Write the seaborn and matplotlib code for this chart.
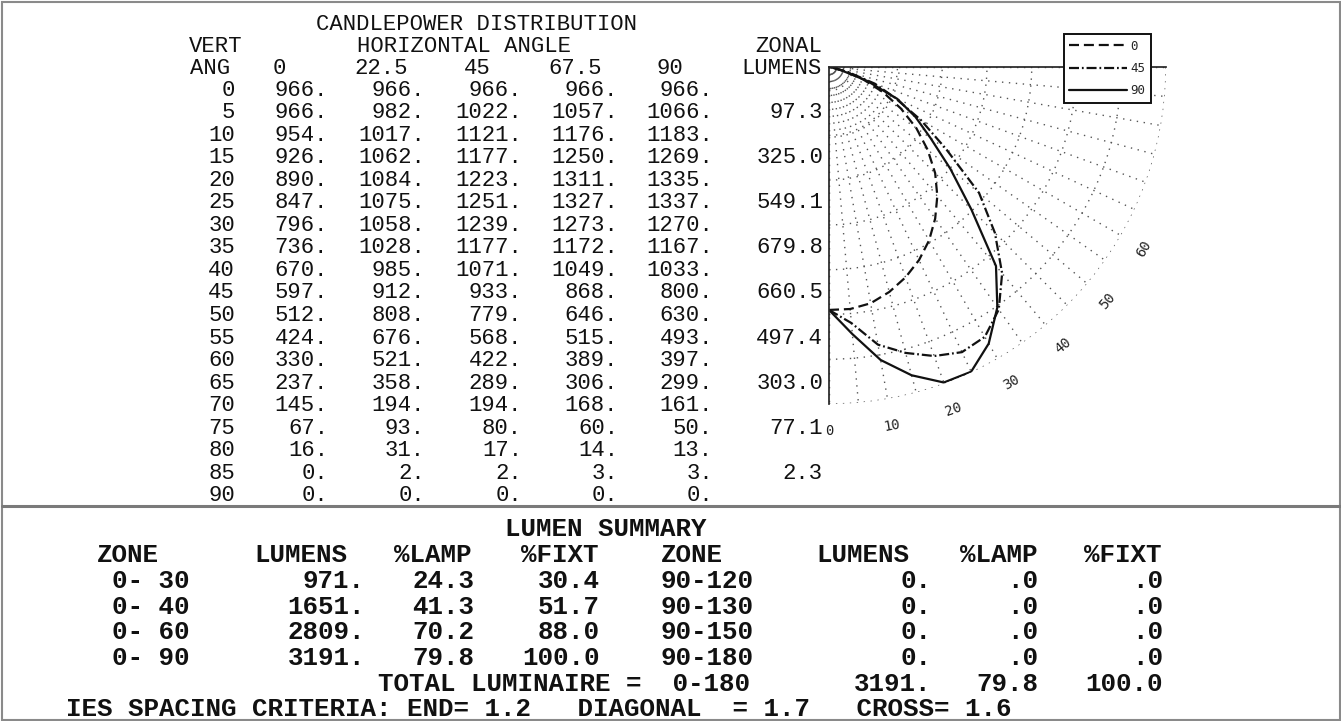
import numpy as np
import pandas as pd
import matplotlib
matplotlib.use("Agg")
import matplotlib.pyplot as plt
import seaborn as sns
from matplotlib.lines import Line2D
from matplotlib.patches import Rectangle

# ---------------- data ----------------
vert_angles = [0, 5, 10, 15, 20, 25, 30, 35, 40, 45, 50, 55, 60, 65, 70, 75, 80, 85, 90]
horiz_angles = ["0", "22.5", "45", "67.5", "90"]
cd_h0 = [966, 966, 954, 926, 890, 847, 796, 736, 670, 597, 512, 424, 330, 237, 145, 67, 16, 0, 0]
cd_h22 = [966, 982, 1017, 1062, 1084, 1075, 1058, 1028, 985, 912, 808, 676, 521, 358, 194, 93, 31, 2, 0]
cd_h45 = [966, 1022, 1121, 1177, 1223, 1251, 1239, 1177, 1071, 933, 779, 568, 422, 289, 194, 80, 17, 2, 0]
cd_h67 = [966, 1057, 1176, 1250, 1311, 1327, 1273, 1172, 1049, 868, 646, 515, 389, 306, 168, 60, 14, 3, 0]
cd_h90 = [966, 1066, 1183, 1269, 1335, 1337, 1270, 1167, 1033, 800, 630, 493, 397, 299, 161, 50, 13, 3, 0]
zonal_lumens = ["97.3", "325.0", "549.1", "679.8", "660.5", "497.4", "303.0", "77.1", "2.3"]

zones_a = ["0- 30", "0- 40", "0- 60", "0- 90"]
lumens_a = ["971.", "1651.", "2809.", "3191."]
lamp_a = ["24.3", "41.3", "70.2", "79.8"]
fixt_a = ["30.4", "51.7", "88.0", "100.0"]
zones_b = ["90-120", "90-130", "90-150", "90-180"]
lumens_b = ["0.", "0.", "0.", "0."]
lamp_b = [".0", ".0", ".0", ".0"]
fixt_b = [".0", ".0", ".0", ".0"]
total_zone = "0-180"
total_vals = ["3191.", "79.8", "100.0"]
spacing_text = "IES SPACING CRITERIA: END= 1.2   DIAGONAL  = 1.7   CROSS= 1.6"

polar_planes = ["0", "45", "90"]
polar_series = {"0": cd_h0, "45": cd_h45, "90": cd_h90}
angle_labels = ["0", "10", "20", "30", "40", "50", "60"]

# ---------------- figure ----------------
sns.set_theme(style="white")
MONO = ["Liberation Mono", "DejaVu Sans Mono"]
plt.rcParams["font.family"] = MONO

W, H = 1341, 721
fig = plt.figure(figsize=(W / 100, H / 100), dpi=100)
fig.patch.set_facecolor("white")


def fx(x):
    return x / W


def fy(y):
    return 1 - y / H


def put(x, y, s, ha="left", size=15, weight="normal"):
    fig.text(fx(x), fy(y), s, ha=ha, va="center_baseline", fontsize=size,
             family=MONO, fontweight=weight, color="#111111")


# frame and separator
fig.add_artist(Rectangle((fx(1.5), fy(719.5)), (W - 3) / W, (H - 3) / H,
                         transform=fig.transFigure, fill=False,
                         edgecolor="#8a8a8a", lw=1.5))
fig.add_artist(Line2D([fx(1.5), fx(W - 1.5)], [fy(506), fy(506)],
                      transform=fig.transFigure, color="#7a7a7a", lw=2.2))

# ---------------- top table ----------------
TS = 16
put(477, 22, "CANDLEPOWER DISTRIBUTION", ha="center", size=TS)
put(189, 44, "VERT", size=TS)
put(464, 44, "HORIZONTAL ANGLE", ha="center", size=TS)
put(822, 44, "ZONAL", ha="right", size=TS)
put(190, 66, "ANG", size=TS)
head_cx = [279, 381, 477, 575, 670]
for cx, lab in zip(head_cx, horiz_angles):
    put(cx, 66, lab, ha="center", size=TS)
put(822, 66, "LUMENS", ha="right", size=TS)

row_y0, row_dy = 87.5, 22.55
col_right = [328, 425, 522, 618, 713]
cols = [cd_h0, cd_h22, cd_h45, cd_h67, cd_h90]
for i, va in enumerate(vert_angles):
    y = row_y0 + i * row_dy
    put(235, y, str(va), ha="right", size=TS)
    for xr, col in zip(col_right, cols):
        put(xr, y, f"{col[i]}.", ha="right", size=TS)
for k, zl in enumerate(zonal_lumens):
    y = row_y0 + (2 * k + 1) * row_dy
    put(823, y, zl, ha="right", size=TS)

# ---------------- bottom summary ----------------
BS = 18.6
BW = "bold"
by0, bdy = 527, 25.7
put(606, by0, "LUMEN SUMMARY", ha="center", size=BS, weight=BW)
hy = by0 + bdy
for xl, lab in zip([97, 254, 394, 521, 661, 816, 960, 1084],
                   ["ZONE", "LUMENS", "%LAMP", "%FIXT", "ZONE", "LUMENS", "%LAMP", "%FIXT"]):
    put(xl, hy, lab, size=BS, weight=BW)
for r in range(4):
    y = by0 + (r + 2) * bdy
    put(112, y, zones_a[r], size=BS, weight=BW)
    put(365, y, lumens_a[r], ha="right", size=BS, weight=BW)
    put(474, y, lamp_a[r], ha="right", size=BS, weight=BW)
    put(600, y, fixt_a[r], ha="right", size=BS, weight=BW)
    put(661, y, zones_b[r], size=BS, weight=BW)
    put(931, y, lumens_b[r], ha="right", size=BS, weight=BW)
    put(1038, y, lamp_b[r], ha="right", size=BS, weight=BW)
    put(1163, y, fixt_b[r], ha="right", size=BS, weight=BW)
ty = by0 + 6 * bdy
put(378, ty, "TOTAL LUMINAIRE =  " + total_zone, size=BS, weight=BW)
for xr, v in zip([931, 1038, 1163], total_vals):
    put(xr, ty, v, ha="right", size=BS, weight=BW)
put(66, by0 + 7 * bdy, spacing_text, size=BS, weight=BW)

# ---------------- polar candlepower plot ----------------
R_PX = 337
RMAX = 1340
ox, oy = 829, 67
ax = fig.add_axes([fx(ox), fy(oy + R_PX), R_PX / W, R_PX / H], projection="polar")
ax.set_theta_zero_location("S")
ax.set_theta_direction(1)
ax.set_thetamin(0)
ax.set_thetamax(90)
ax.set_rlim(0, RMAX)
ax.set_facecolor("none")

rows = []
for p in polar_planes:
    for a, v in zip(vert_angles, polar_series[p]):
        rows.append({"theta": np.deg2rad(a), "cd": v, "plane": p})
df = pd.DataFrame(rows)

sns.lineplot(data=df, x="theta", y="cd", style="plane", style_order=polar_planes,
             dashes={"0": (4.5, 2.2), "45": (4.5, 1.3, 0.8, 1.3), "90": ""},
             color="#111111", lw=1.6, sort=False, estimator=None,
             legend=False, ax=ax)
ax.set_xlabel("")
ax.set_ylabel("")

ax.set_xticks(np.deg2rad(np.arange(0, 91, 5)))
ax.set_xticklabels([])
ax.set_yticks([RMAX - 178 * k for k in range(8)])
ax.set_yticklabels([])
ax.tick_params(length=0)
ax.grid(True, color="#555555", linestyle=(0, (1, 4)), linewidth=1.0)
for sp in ax.spines.values():
    sp.set_visible(False)

for lab in angle_labels:
    th = float(lab)
    ax.text(np.deg2rad(th), RMAX * 1.08, lab, rotation=th, ha="center", va="center",
            fontsize=10, family=["DejaVu Sans Mono"], color="#222222",
            rotation_mode="anchor", clip_on=False)

handles = ax.get_lines()[:3]
leg = fig.legend(handles, polar_planes, loc="upper right",
                 bbox_to_anchor=(fx(1151), fy(34)), bbox_transform=fig.transFigure,
                 frameon=True, fancybox=False, edgecolor="#111111", framealpha=1.0,
                 handlelength=4.6, handletextpad=0.3, labelspacing=0.75,
                 borderpad=0.45, borderaxespad=0.0,
                 prop={"family": ["DejaVu Sans Mono"], "size": 9})
leg.get_frame().set_linewidth(1.4)

fig.savefig("out.png", dpi=100, facecolor="white")
